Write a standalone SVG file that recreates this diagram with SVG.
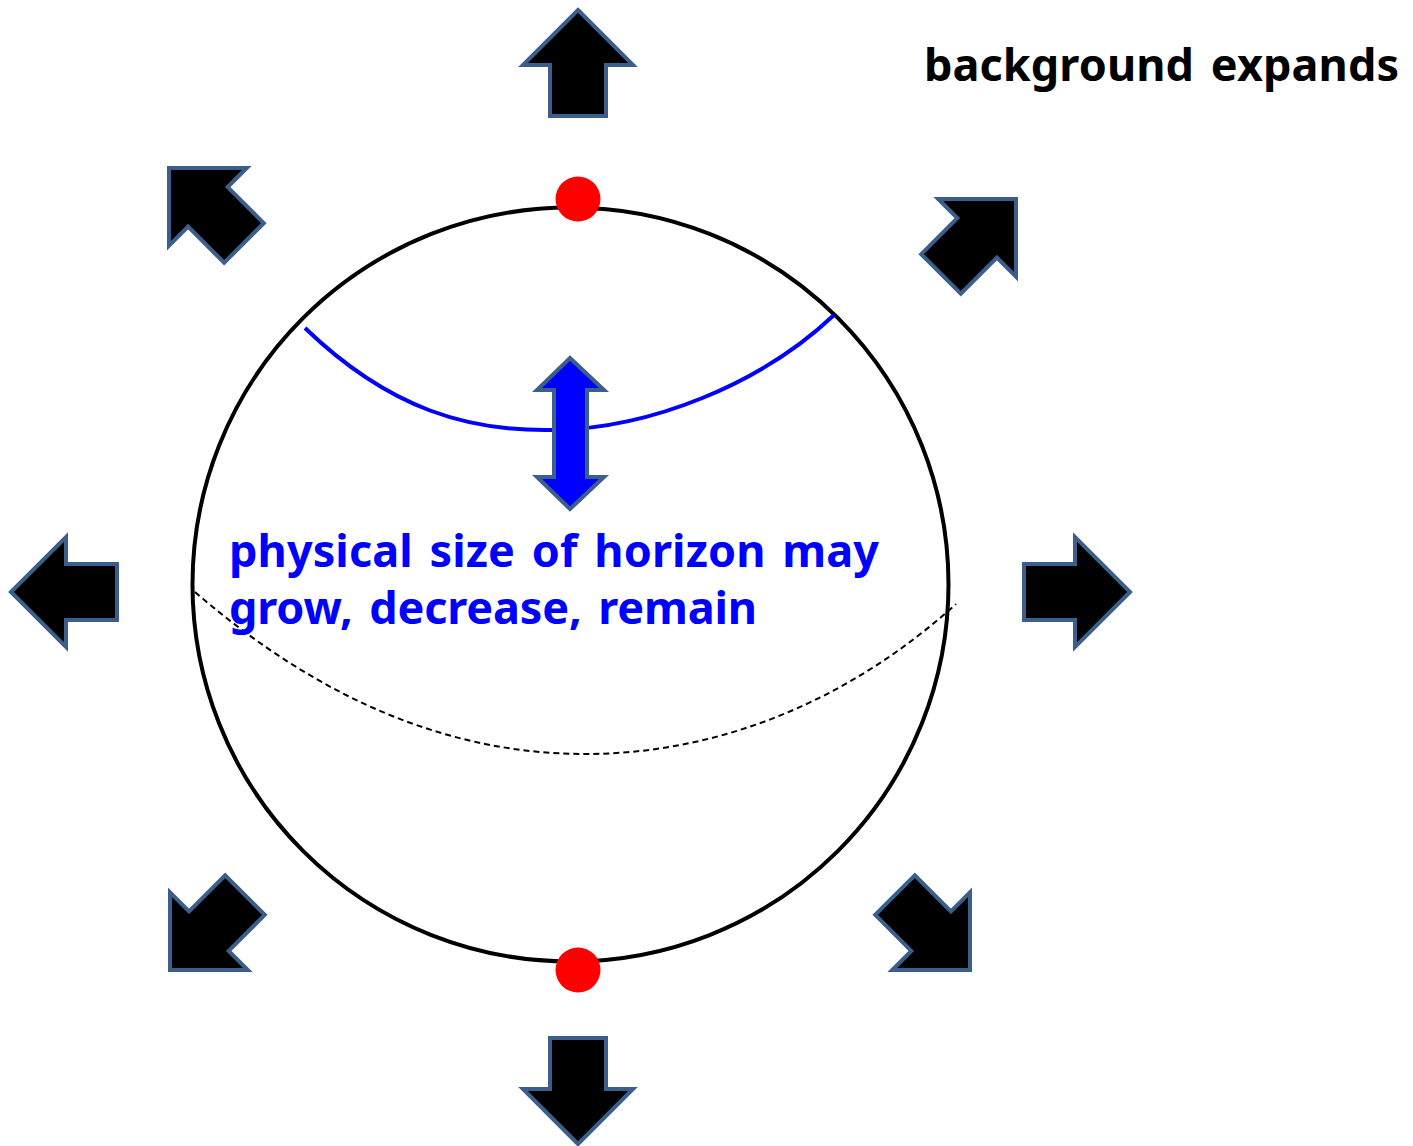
<svg xmlns="http://www.w3.org/2000/svg" width="1413" height="1146" viewBox="0 0 1413 1146">
<style>
.arr{fill:#000;stroke:#3b5f8a;stroke-width:4;stroke-linejoin:miter}
.lbl{font-family:"Noto Sans","Open Sans",sans-serif;font-weight:bold;font-size:45px;word-spacing:5px}
</style>
<defs>
<polygon id="bigarrow" points="0,0 55,55 28,55 28,106 -28,106 -28,55 -55,55"/>
</defs>
<rect width="1413" height="1146" fill="#fff"/>
<g id="sphere">
<ellipse cx="570.5" cy="584.5" rx="378" ry="377" fill="none" stroke="#000" stroke-width="4"/>
</g>
<g id="connectors">
<path id="horizon" d="M305,328 C390,410 470,432 555,430 C650,428 760,385 834,315" fill="none" stroke="#0000ff" stroke-width="4"/>
<path id="equator" d="M195,592 C320,700 450,754 585,754 C720,754 850,700 956,604" fill="none" stroke="#000" stroke-width="2" stroke-dasharray="6,4"/>
</g>
<g id="dot-top"><circle cx="578" cy="199" r="22.5" fill="#ff0000"/></g>
<g id="dot-bottom"><circle cx="578" cy="970" r="22.5" fill="#ff0000"/></g>
<g id="double-arrow">
<polygon points="570,358 604,390 587,390 587,477 604,477 570,509 537,477 554,477 554,390 537,390" fill="#0000ff" stroke="#3b5f8a" stroke-width="4"/>
</g>
<g id="arrow-up"><use href="#bigarrow" class="arr" transform="translate(578,10)"/></g>
<g id="arrow-down"><use href="#bigarrow" class="arr" transform="translate(578,1144) rotate(180)"/></g>
<g id="arrow-left"><use href="#bigarrow" class="arr" transform="translate(11,592) rotate(-90)"/></g>
<g id="arrow-right"><use href="#bigarrow" class="arr" transform="translate(1130,592) rotate(90)"/></g>
<g id="arrow-upleft"><use href="#bigarrow" class="arr" transform="translate(169,168) rotate(-45)"/></g>
<g id="arrow-upright"><use href="#bigarrow" class="arr" transform="translate(1016,199) rotate(45)"/></g>
<g id="arrow-downleft"><use href="#bigarrow" class="arr" transform="translate(170,970) rotate(-135)"/></g>
<g id="arrow-downright"><use href="#bigarrow" class="arr" transform="translate(970,970) rotate(135)"/></g>
<g id="label-horizon">
<text class="lbl" fill="#0000ff" x="229" y="567" textLength="650" lengthAdjust="spacing">physical size of horizon may</text>
<text class="lbl" fill="#0000ff" x="229" y="624" textLength="528" lengthAdjust="spacing">grow, decrease, remain</text>
</g>
<g id="label-background">
<text class="lbl" fill="#000" x="924" y="81" textLength="475" lengthAdjust="spacing">background expands</text>
</g>
</svg>
